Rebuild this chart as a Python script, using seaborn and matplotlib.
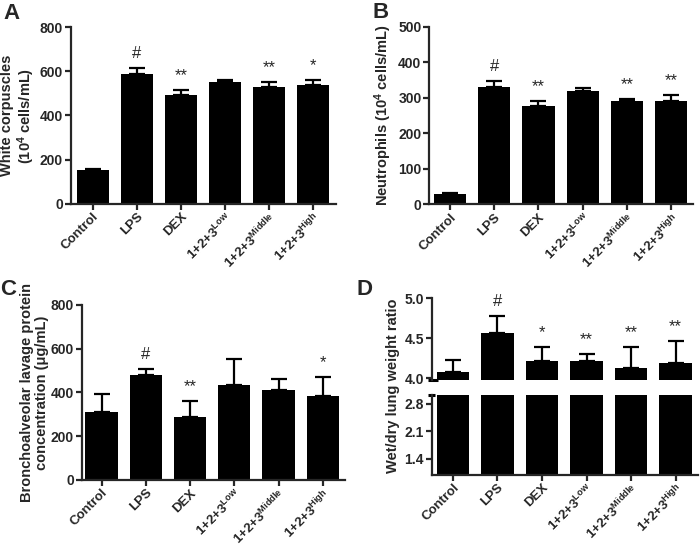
import matplotlib
matplotlib.use("Agg")
import matplotlib.pyplot as plt
import numpy as np
import pandas as pd
import seaborn as sns

groups = ["Control", "LPS", "DEX", "Low", "Middle", "High"]
tick_labels = ["Control", "LPS", "DEX",
               r"1+2+3$^{\mathrm{Low}}$", r"1+2+3$^{\mathrm{Middle}}$", r"1+2+3$^{\mathrm{High}}$"]

wbc = [153, 590, 495, 553, 530, 538]
wbc_err = [5, 25, 20, 8, 20, 22]
wbc_sig = ["", "#", "**", "", "**", "*"]

neu = [28, 330, 277, 320, 290, 290]
neu_err = [4, 17, 13, 8, 7, 17]
neu_sig = ["", "#", "**", "", "**", "**"]

prot = [310, 480, 289, 433, 412, 386]
prot_err = [85, 27, 72, 122, 48, 85]
prot_sig = ["", "#", "**", "", "", "*"]

wd = [4.07, 4.56, 4.21, 4.21, 4.13, 4.19]
wd_err = [0.15, 0.22, 0.18, 0.09, 0.26, 0.27]
wd_sig = ["", "#", "*", "**", "**", "**"]

sns.set_style("ticks")
plt.rcParams["font.family"] = ["Liberation Sans", "DejaVu Sans"]
plt.rcParams["font.weight"] = "bold"
plt.rcParams["axes.labelweight"] = "bold"
plt.rcParams["mathtext.fontset"] = "custom"
plt.rcParams["mathtext.rm"] = "Liberation Sans:bold"
plt.rcParams["mathtext.it"] = "Liberation Sans:bold:italic"
plt.rcParams["mathtext.bf"] = "Liberation Sans:bold"

LW = 1.6
BW = 0.73
TICK_FS = 10
XTICK_FS = 9.5
LAB_FS = 10.5


def draw_bars(ax, vals, err, sig=None, xlim=(-0.5, 5.5), off=5):
    df = pd.DataFrame({"group": groups, "val": vals})
    sns.barplot(data=df, x="group", y="val", color="black", saturation=1,
                width=BW, errorbar=None, ax=ax, edgecolor="black", linewidth=0)
    x = np.arange(len(groups))
    ax.errorbar(x, vals, yerr=[np.zeros(len(vals)), err], fmt="none",
                ecolor="black", elinewidth=LW, capsize=6, capthick=LW)
    if sig is not None:
        for xi, v, e, s in zip(x, vals, err, sig):
            if s:
                ax.annotate(s, (xi, v + e), xytext=(0, off), textcoords="offset points",
                            ha="center", va="bottom", fontsize=12, fontweight="normal")
    ax.set_xlim(*xlim)
    ax.set_xlabel("")
    for sp in ["top", "right"]:
        ax.spines[sp].set_visible(False)
    for sp in ["left", "bottom"]:
        ax.spines[sp].set_linewidth(LW)
    ax.tick_params(direction="out", length=4, width=LW, labelsize=TICK_FS, pad=1.5)


def set_xlabels(ax):
    ax.set_xticks(range(len(groups)))
    ax.set_xticklabels(tick_labels, rotation=45, ha="right", rotation_mode="anchor",
                       fontsize=XTICK_FS, fontweight="bold")
    ax.tick_params(axis="x", pad=1)


fig = plt.figure(figsize=(7, 5.46), dpi=100)

# A
axA = fig.add_axes([0.101, 0.627, 0.379, 0.323])
draw_bars(axA, wbc, wbc_err, wbc_sig, xlim=(-0.5, 5.52))
axA.set_ylim(0, 800)
axA.set_yticks([0, 200, 400, 600, 800])
axA.set_ylabel("White corpuscles\n(10$^{\\mathrm{4}}$ cells/mL)", fontsize=LAB_FS, labelpad=2,
               linespacing=1.1)
set_xlabels(axA)

# B
axB = fig.add_axes([0.613, 0.626, 0.377, 0.325])
draw_bars(axB, neu, neu_err, neu_sig, xlim=(-0.47, 5.49))
axB.set_ylim(0, 500)
axB.set_yticks([0, 100, 200, 300, 400, 500])
axB.set_ylabel("Neutrophils (10$^{\\mathrm{4}}$ cells/mL)", fontsize=LAB_FS, labelpad=3)
set_xlabels(axB)

# C
axC = fig.add_axes([0.1167, 0.121, 0.376, 0.3204])
draw_bars(axC, prot, prot_err, prot_sig, xlim=(-0.45, 5.5))
axC.set_ylim(0, 800)
axC.set_yticks([0, 200, 400, 600, 800])
axC.set_ylabel("Bronchoalveolar lavage protein\nconcentration (\u03bcg/mL)", fontsize=LAB_FS,
               labelpad=1, linespacing=1.1)
set_xlabels(axC)

# D (broken axis)
axDu = fig.add_axes([0.6167, 0.304, 0.381, 0.1496])
axDl = fig.add_axes([0.6167, 0.1308, 0.381, 0.1458])
draw_bars(axDu, wd, wd_err, wd_sig, xlim=(-0.475, 5.51))
draw_bars(axDl, wd, wd_err, None, xlim=(-0.475, 5.51))
axDu.set_ylim(3.975, 5.0)
axDu.set_yticks([4.0, 4.5, 5.0])
axDu.set_yticklabels(["4.0", "4.5", "5.0"])
axDu.spines["bottom"].set_visible(False)
axDu.tick_params(axis="x", bottom=False, labelbottom=False)
axDu.set_ylabel("")
axDl.set_ylim(1.0, 3.02)
axDl.set_yticks([1.4, 2.1, 2.8])
axDl.set_ylabel("")
set_xlabels(axDl)
axDu.plot([-0.012, 0.022], [0, 0], transform=axDu.transAxes, color="black",
          lw=2.2, clip_on=False, solid_capstyle="butt")
axDl.plot([-0.012, 0.012], [1, 1], transform=axDl.transAxes, color="black",
          lw=2.2, clip_on=False, solid_capstyle="butt")
fig.text(0.562, 0.293, "Wet/dry lung weight ratio", rotation=90, ha="center",
         va="center", fontsize=LAB_FS, fontweight="bold")

# panel letters
for lab, xx, yy in [("A", 0.017, 0.976), ("B", 0.543, 0.978), ("C", 0.012, 0.47), ("D", 0.52, 0.47)]:
    fig.text(xx, yy, lab, fontsize=16, fontweight="bold", ha="center", va="center")

fig.savefig("out.png", dpi=100)
